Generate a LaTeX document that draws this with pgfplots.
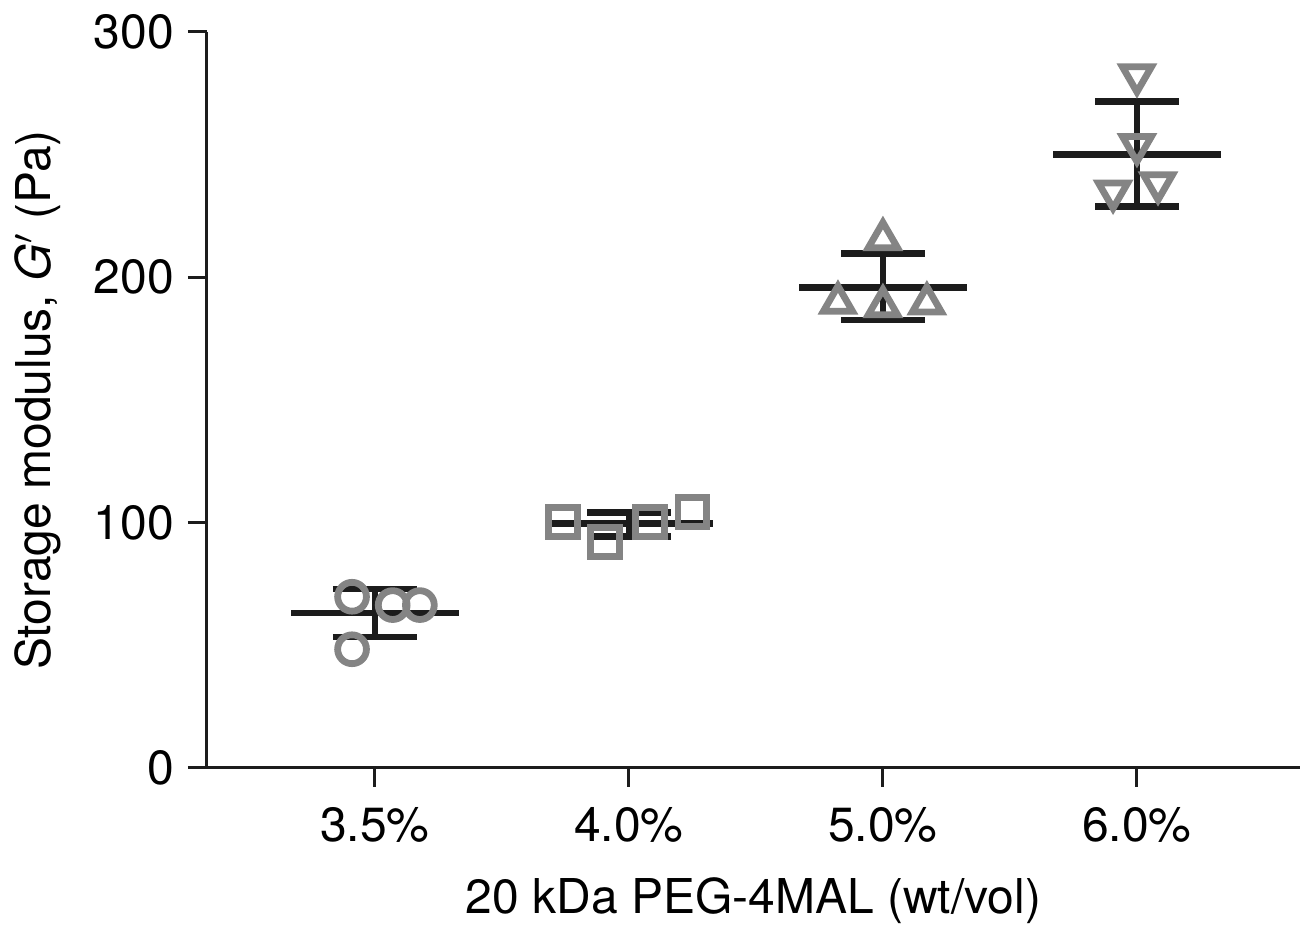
\documentclass[border=0pt]{standalone}
\usepackage{fontspec}
\setmainfont{TeX Gyre Heros}
\usepackage{pgfplots}
\pgfplotsset{compat=1.18}
\definecolor{markgray}{RGB}{132,132,132}
\definecolor{barblack}{RGB}{28,28,28}

\begin{document}
\begin{tikzpicture}
\useasboundingbox (-51.75pt,-40pt) rectangle (274pt,192pt);
\begin{axis}[
    scale only axis,
    width=273.25pt, height=184pt,
    at={(0,0)}, anchor=south west,
    xmin=-0.661, xmax=3.642,
    ymin=0, ymax=300,
    axis x line=bottom, axis y line=left,
    axis line style={-, line width=0.75pt, barblack},
    xtick={0,1,2,3},
    xticklabels={3.5\%,4.0\%,5.0\%,6.0\%},
    ytick={0,100,200,300},
    tick align=outside,
    major tick length=4.75pt,
    tick style={line width=0.75pt, barblack},
    /pgf/number format/assume math mode=true,
    tick label style={font=\fontsize{12}{14}\selectfont},
    xticklabel style={yshift=-1.5pt},
    label style={font=\fontsize{12}{14}\selectfont},
    xlabel={20 kDa PEG-4MAL (wt/vol)},
    ylabel={Storage modulus, \textit{G}$'$ (Pa)},
    xlabel style={at={(axis description cs:0.5,-0.18)}, anchor=center},
    ylabel style={at={(axis description cs:-0.155,0.5)}, anchor=center, rotate=0},
    unbounded coords=jump,
    clip=false,
]
% mean and SD lines
\addplot[barblack, line width=1.7pt] coordinates {
    (-0.33,63.2) (0.33,63.2) (nan,nan)
    (-0.165,73.0) (0.165,73.0) (nan,nan)
    (-0.165,53.4) (0.165,53.4) (nan,nan)
    (0,53.4) (0,73.0) (nan,nan)
    (0.67,99.6) (1.33,99.6) (nan,nan)
    (0.835,104.2) (1.165,104.2) (nan,nan)
    (0.835,94.3) (1.165,94.3) (nan,nan)
    (1,94.3) (1,104.2) (nan,nan)
    (1.67,195.9) (2.33,195.9) (nan,nan)
    (1.835,209.8) (2.165,209.8) (nan,nan)
    (1.835,182.6) (2.165,182.6) (nan,nan)
    (2,182.6) (2,209.8) (nan,nan)
    (2.67,250.0) (3.33,250.0) (nan,nan)
    (2.835,271.6) (3.165,271.6) (nan,nan)
    (2.835,228.8) (3.165,228.8) (nan,nan)
    (3,228.8) (3,271.6)
};
% 3.5 %
\addplot[only marks, mark=o, mark size=3.6pt,
    mark options={draw=markgray, line width=1.7pt}] coordinates {
    (-0.09,69.8) (0.07,66.4) (0.177,66.4) (-0.09,48.4)
};
% 4.0 %
\addplot[only marks, mark=square, mark size=3.6pt,
    mark options={draw=markgray, line width=1.7pt}] coordinates {
    (0.74,100.3) (0.906,92.2) (1.083,100.3) (1.25,104.4)
};
% 5.0 %
\addplot[only marks, mark=triangle, mark size=4.2pt,
    mark options={draw=markgray, line width=1.7pt}] coordinates {
    (1.823,189.6) (2,188.2) (2.173,189.3) (2,215.5)
};
% 6.0 %
\addplot[only marks, mark=triangle, mark size=4.2pt,
    mark options={draw=markgray, line width=1.7pt, rotate=180}] coordinates {
    (3,282.4) (3,254.0) (2.906,235.0) (3.083,238.4)
};
\end{axis}
\end{tikzpicture}
\end{document}
